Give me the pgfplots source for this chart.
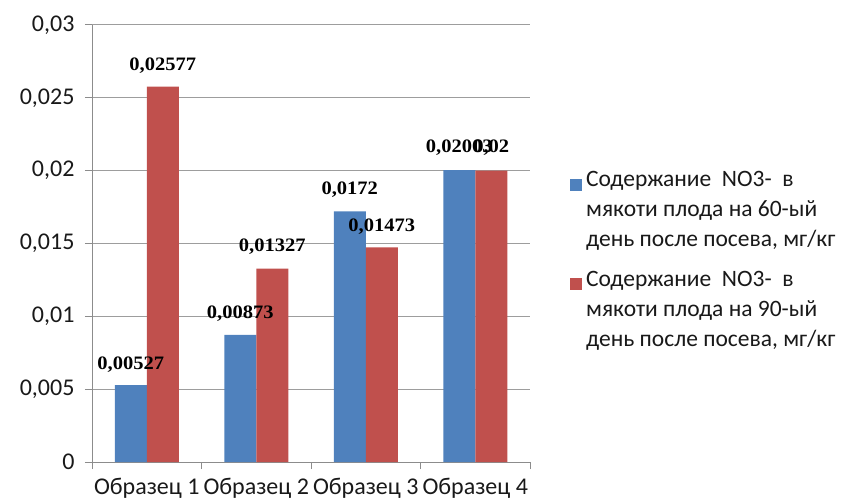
\documentclass[border=0pt]{standalone}
\usepackage{pgfplots}
\pgfplotsset{compat=1.18}
\usepackage{pgfplotstable}
\usepackage{fontspec}
\setmainfont{Carlito}
\newfontfamily\lblfont{Liberation Serif}[FakeStretch=1.08]

\definecolor{serA}{HTML}{4F81BD}
\definecolor{serB}{HTML}{C0504D}
\definecolor{axgray}{HTML}{8C8C8C}

% x: sample number, y: nitrate content, lab: printed value, dy: label lift (pt)
\pgfplotstableread{
x y lab dy
1 0.00527 0,00527 16
2 0.00873 0,00873 16
3 0.0172 0,0172 17
4 0.02003 0,02003 18
}\daySixty
\pgfplotstableread{
x y lab dy
1 0.02577 0,02577 16
2 0.01327 0,01327 17
3 0.01473 0,01473 16
4 0.02 0,02 18
}\dayNinety

\begin{document}
\begin{tikzpicture}
\useasboundingbox (0,0) rectangle (848pt,503pt);
\begin{axis}[
  at={(92pt,41pt)}, anchor=south west,
  scale only axis, width=438pt, height=437pt,
  xmin=0.5, xmax=4.5, ymin=0, ymax=0.03,
  ybar=0pt, bar width=32pt,
  axis x line*=bottom, axis y line*=left,
  axis line style={draw=axgray, line width=1pt},
  tick align=outside, major tick length=7pt,
  ytick={0,0.005,0.01,0.015,0.02,0.025,0.03},
  scaled y ticks=false,
  yticklabel style={font=\fontsize{24}{28}\selectfont, xshift=-7pt,
    /pgf/number format/fixed, /pgf/number format/precision=3,
    /pgf/number format/use comma, /pgf/number format/assume math mode=true},
  ytick style={draw=axgray, line width=1pt},
  ymajorgrids, grid style={draw=axgray!85, line width=1pt},
  xtick={1,2,3,4},
  xticklabels={Образец 1,Образец 2,Образец 3,Образец 4},
  xticklabel style={font=\fontsize{24}{28}\selectfont, yshift=-6pt},
  xtick style={draw=none},
  extra x ticks={0.5,1.5,2.5,3.5,4.5},
  extra x tick labels={},
  extra x tick style={grid=none, xtick style={draw=axgray, line width=1pt}},
  ticklabel style={text=black!90},
  nodes near coords,
  point meta=explicit symbolic,
  visualization depends on={\thisrow{dy} \as \dy},
  nodes near coords style={font=\lblfont\bfseries\fontsize{19}{22}\selectfont,
    anchor=base, inner sep=0pt, yshift=\dy pt, text=black},
  legend image code/.code={\fill[#1] (0pt,19pt) rectangle (12pt,31pt);},
  legend style={at={(1.0845,0.675)}, anchor=north west, draw=none,
    font=\fontsize{23.5}{30}\selectfont, text=black!90,
    cells={anchor=west, align=left}, row sep=19pt, column sep=2pt},
]
\addplot[fill=serA, draw=none] table[x=x, y=y, meta=lab] \daySixty;
\addlegendentry{Содержание\ \ NO3-\ \ в\\мякоти плода на 60-ый\\день после посева, мг/кг}
\addplot[fill=serB, draw=none] table[x=x, y=y, meta=lab] \dayNinety;
\addlegendentry{Содержание\ \ NO3-\ \ в\\мякоти плода на 90-ый\\день после посева, мг/кг}
\end{axis}
\end{tikzpicture}
\end{document}
